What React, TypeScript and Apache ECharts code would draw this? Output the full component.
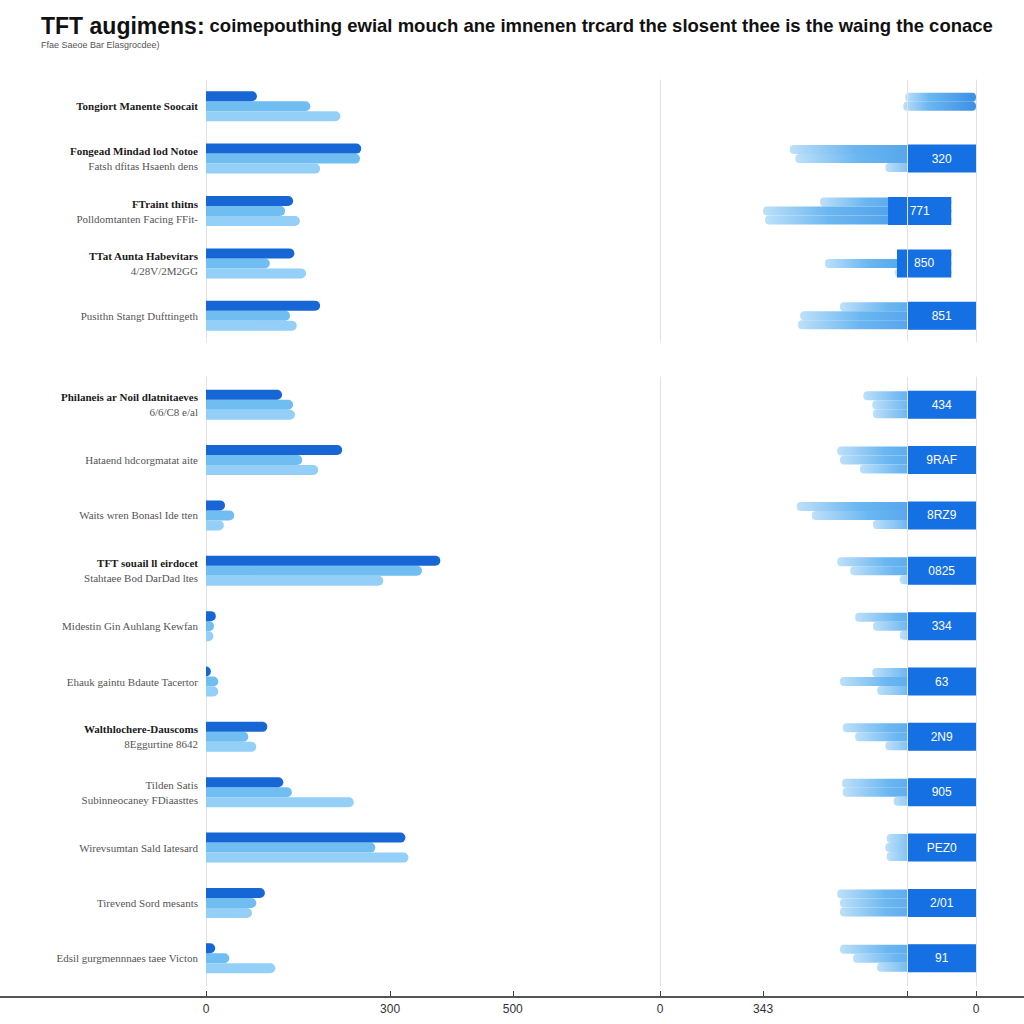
import React, { useEffect, useRef } from "react";
import * as echarts from "echarts";

// ---- texts ----
const TITLE_BOLD = "TFT augimens:";
const TITLE_REST = "coimepouthing ewial mouch ane imnenen trcard the slosent thee is the waing the conace";
const SUBTITLE = "Ffae Saeoe Bar Elasgrocdee)";

// ---- categories (upper group / lower group) ----
const topLabels = [
  "Tongiort Manente Soocait",
  "Fongead Mindad lod Notoe\nFatsh dfitas Hsaenh dens",
  "FTraint thitns\nPolldomtanten Facing FFit-",
  "TTat Aunta Habevitars\n4/28V/2M2GG",
  "Pusithn Stangt Dufttingeth",
];
const topBold = [true, true, true, true, false];

const bottomLabels = [
  "Philaneis ar Noil dlatnitaeves\n6/6/C8 e/al",
  "Hataend hdcorgmatat aite",
  "Waits wren Bonasl Ide tten",
  "TFT souail ll eirdocet\nStahtaee Bod DarDad ltes",
  "Midestin Gin Auhlang Kewfan",
  "Ehauk gaintu Bdaute Tacertor",
  "Walthlochere-Dauscoms\n8Eggurtine 8642",
  "Tilden Satis\nSubinneocaney FDiaasttes",
  "Wirevsumtan Sald Iatesard",
  "Tirevend Sord mesants",
  "Edsil gurgmennnaes taee Victon",
];
const bottomBold = [true, false, false, true, false, false, true, false, false, false, false];

// ---- left panel values ----
const leftTopDark = [83, 253, 142, 144, 186];
const leftTopLight1 = [170, 251, 129, 104, 137];
const leftTopLight2 = [219, 186, 153, 163, 148];

const leftBottomDark = [124, 222, 31, 382, 16, 8, 100, 126, 325, 96, 15];
const leftBottomLight1 = [142, 157, 46, 352, 13, 20, 69, 140, 276, 82, 38];
const leftBottomLight2 = [145, 183, 29, 289, 12, 20, 82, 241, 330, 75, 113];

// ---- right panel values (bar extents measured from the right-hand zero) ----
const rightTopLight1 = [103, 271, 227, 103, 198];
const rightTopLight2 = [106, 263, 310, 220, 256];
const rightTopLight3 = [null, 132, 307, 118, 259];
const rightTopOffset = [0, 0, 36, 36, 0];
const rightTopScore = [null, 100, 92, 79, 100];
const rightTopBoxText = ["", "320", "771", "850", "851"];

const rightBottomLight1 = [164, 202, 261, 202, 176, 151, 194, 195, 130, 202, 198];
const rightBottomLight2 = [151, 198, 239, 183, 150, 198, 176, 194, 132, 198, 179];
const rightBottomLight3 = [150, 169, 150, 111, 111, 144, 132, 120, 130, 198, 144];
const rightBottomOffset = [0, 0, 0, 0, 0, 0, 0, 0, 0, 0, 0];
const rightBottomScore = [100, 100, 100, 100, 100, 100, 100, 100, 100, 100, 100];
const rightBottomBoxText = ["434", "9RAF", "8RZ9", "0825", "334", "63", "2N9", "905", "PEZ0", "2/01", "91"];

// ---- tick labels ----
const leftTickValues = [0, 300, 500];
const leftTickText = ["0", "300", "500"];
const rightTickMarks = [0, 100, 310, 460];
const rightTickValues = [0, 310, 460];
const rightTickText = ["0", "343", "0"];
const rightRefLine = 100;

const DARK = "#1766d6";
const BOX = "#1570e4";
const LIGHT1 = "#70bdf2";
const LIGHT2 = "#93cff6";
const GRIDLINE = "#e2e2e2";

function labelFormatter(labels: string[], bold: boolean[]) {
  return (value: string) => {
    const parts = value.split("\n");
    const i = labels.indexOf(value);
    const b = i >= 0 ? bold[i] : false;
    if (parts.length === 2) {
      return `{${b ? "b" : "s"}|${parts[0]}}\n{s|${parts[1]}}`;
    }
    return `{${b ? "b" : "s"}|${parts[0]}}`;
  };
}

const richLabel = {
  b: { fontFamily: "Liberation Serif", fontSize: 11, fontWeight: "bold", color: "#1a1a1a", lineHeight: 15 },
  s: { fontFamily: "Liberation Serif", fontSize: 11, color: "#555", lineHeight: 15 },
};

function rightGradient() {
  return new echarts.graphic.LinearGradient(0, 0, 1, 0, [
    { offset: 0, color: "#bde0f9" },
    { offset: 0.35, color: "#6ab6f1" },
    { offset: 1, color: "#3b90e5" },
  ]);
}

export default function App() {
  const ref = useRef<HTMLDivElement>(null);
  useEffect(() => {
    if (!ref.current) return;
    const chart = echarts.init(ref.current, undefined, { renderer: "svg" });

    const leftBars = (xi: number, yi: number, d: number[], l1: number[], l2: number[]) => [
      { type: "bar", xAxisIndex: xi, yAxisIndex: yi, data: d, barWidth: 10, barGap: "0%", itemStyle: { color: DARK, borderRadius: [0, 5, 5, 0] }, z: 3 },
      { type: "bar", xAxisIndex: xi, yAxisIndex: yi, data: l1, barWidth: 10, barGap: "0%", itemStyle: { color: LIGHT1, borderRadius: [0, 5, 5, 0] }, z: 2 },
      { type: "bar", xAxisIndex: xi, yAxisIndex: yi, data: l2, barWidth: 10, barGap: "0%", itemStyle: { color: LIGHT2, borderRadius: [0, 5, 5, 0] }, z: 2 },
    ];

    const rightBars = (
      xi: number, yiL: number, yiD: number,
      l1: any[], l2: any[], l3: any[], off: number[], score: any[], boxText: string[], key: string
    ) => {
      const lights = [l1, l2, l3];
      const out: any[] = [];
      lights.forEach((arr, k) => {
        out.push({
          type: "bar", xAxisIndex: xi, yAxisIndex: yiL, stack: key + "l" + k, data: off,
          barWidth: 9, barGap: "0%", itemStyle: { color: "rgba(0,0,0,0)" }, z: 1, silent: true,
        });
        const s: any = {
          type: "bar", xAxisIndex: xi, yAxisIndex: yiL, stack: key + "l" + k,
          data: arr.map((v, i) => (v == null ? null : v - off[i])),
          barWidth: 9, barGap: "0%", itemStyle: { color: rightGradient(), borderRadius: 4 }, z: 2,
        };
        if (k === 0) {
          s.markLine = {
            silent: true, symbol: "none", label: { show: false },
            lineStyle: { color: GRIDLINE, type: "solid", width: 1 },
            data: [{ xAxis: rightRefLine }],
          };
        }
        out.push(s);
      });
      out.push({ type: "bar", xAxisIndex: xi, yAxisIndex: yiD, stack: key + "d", data: off, barWidth: 28, itemStyle: { color: "rgba(0,0,0,0)" }, z: 3, silent: true });
      out.push({
        type: "bar", xAxisIndex: xi, yAxisIndex: yiD, stack: key + "d", data: score, barWidth: 28,
        itemStyle: { color: BOX }, z: 3,
        label: {
          show: true, position: "inside", color: "#fff", fontSize: 12, fontFamily: "Liberation Sans",
          formatter: (p: any) => boxText[p.dataIndex] || "",
        },
      });
      return out;
    };

    const catAxisLeft = (gi: number, labels: string[], bold: boolean[]) => ({
      type: "category", gridIndex: gi, inverse: true, data: labels,
      axisLine: { show: true, lineStyle: { color: GRIDLINE } },
      axisTick: { show: false },
      axisLabel: { margin: 8, formatter: labelFormatter(labels, bold), rich: richLabel },
    });
    const catAxisRight = (gi: number, labels: string[], pos: "left" | "right") => ({
      type: "category", gridIndex: gi, inverse: true, data: labels, position: pos,
      axisLine: { show: true, onZero: false, lineStyle: { color: GRIDLINE } },
      axisTick: { show: false }, axisLabel: { show: false },
    });

    const option: any = {
      animation: false,
      backgroundColor: "#fff",
      title: {
        text: `{a|${TITLE_BOLD}} {b|${TITLE_REST}}`,
        subtext: SUBTITLE,
        left: 36, top: 9, itemGap: 3,
        textStyle: {
          rich: {
            a: { fontFamily: "Liberation Sans", fontSize: 23, fontWeight: "bold", color: "#111" },
            b: { fontFamily: "Liberation Sans", fontSize: 18.5, color: "#111" },
          },
        },
        subtextStyle: { fontFamily: "Liberation Sans", fontSize: 9, color: "#555" },
      },
      grid: [
        { left: 206, right: 364, top: 80, height: 262 },
        { left: 206, right: 364, top: 377, height: 609 },
        { left: 660, right: 48, top: 80, height: 262 },
        { left: 660, right: 48, top: 377, height: 609 },
      ],
      xAxis: [
        { type: "value", gridIndex: 0, min: 0, max: 740, show: false },
        {
          type: "value", gridIndex: 1, min: 0, max: 740, offset: 11,
          axisLine: { show: false }, splitLine: { show: false },
          axisTick: { show: true, inside: true, length: 6, customValues: leftTickValues, lineStyle: { color: "#444" } },
          axisLabel: {
            customValues: leftTickValues, color: "#333", fontSize: 12, fontFamily: "Liberation Sans", margin: 6,
            formatter: (v: number) => leftTickText[leftTickValues.indexOf(v)] ?? "",
          },
        },
        { type: "value", gridIndex: 2, min: 0, max: 460, inverse: true, show: false },
        {
          type: "value", gridIndex: 3, min: 0, max: 460, inverse: true, offset: 11,
          axisLine: { show: false }, splitLine: { show: false },
          axisTick: { show: true, inside: true, length: 6, customValues: rightTickMarks, lineStyle: { color: "#444" } },
          axisLabel: {
            customValues: rightTickValues, color: "#333", fontSize: 12, fontFamily: "Liberation Sans", margin: 6,
            formatter: (v: number) => rightTickText[rightTickValues.indexOf(v)] ?? "",
          },
        },
      ],
      yAxis: [
        catAxisLeft(0, topLabels, topBold),
        catAxisLeft(1, bottomLabels, bottomBold),
        catAxisRight(2, topLabels, "right"),
        catAxisRight(2, topLabels, "left"),
        catAxisRight(3, bottomLabels, "right"),
        catAxisRight(3, bottomLabels, "left"),
      ],
      graphic: [
        { type: "line", shape: { x1: 0, y1: 997, x2: 1024, y2: 997 }, style: { stroke: "#555", lineWidth: 2 }, z: 10 },
      ],
      series: [
        ...leftBars(0, 0, leftTopDark, leftTopLight1, leftTopLight2),
        ...leftBars(1, 1, leftBottomDark, leftBottomLight1, leftBottomLight2),
        ...rightBars(2, 2, 3, rightTopLight1, rightTopLight2, rightTopLight3, rightTopOffset, rightTopScore, rightTopBoxText, "rt"),
        ...rightBars(3, 4, 5, rightBottomLight1, rightBottomLight2, rightBottomLight3, rightBottomOffset, rightBottomScore, rightBottomBoxText, "rb"),
      ],
    };
    chart.setOption(option);
    return () => chart.dispose();
  }, []);
  return <div ref={ref} style={{ position: "fixed", left: 0, top: 0, width: 1024, height: 1024, background: "#fff" }} />;
}
